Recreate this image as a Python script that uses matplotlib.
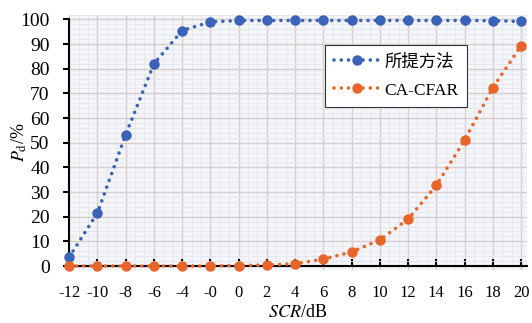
import numpy as np
import matplotlib.pyplot as plt
from matplotlib.ticker import MultipleLocator

plt.rcParams['font.family'] = ['Liberation Serif', 'Noto Sans CJK SC']
plt.rcParams['mathtext.fontset'] = 'stix'

scr_labels = ['-12', '-10', '-8', '-6', '-4', '-0', '0', '2', '4', '6',
              '8', '10', '12', '14', '16', '18', '20']
pd_proposed = [3.6, 21.5, 53.2, 82.0, 95.5, 99.0, 99.6, 99.6, 99.6, 99.6,
               99.6, 99.6, 99.6, 99.6, 99.6, 99.5, 99.2]
pd_cacfar = [0, 0, 0, 0, 0, 0, 0.2, 0.4, 0.9, 2.8,
             5.7, 10.6, 19.0, 32.7, 51.0, 72.3, 89.3]

x = np.arange(len(scr_labels))

fig, ax = plt.subplots(figsize=(5.32, 3.23), dpi=100)
fig.subplots_adjust(left=0.13, right=0.99, top=0.955, bottom=0.165)
ax.set_facecolor('#f3f5f9')

dot = (0, (0.01, 2.0))
ax.plot(x, pd_proposed, color='#3a62b8', linestyle=dot,
        dash_capstyle='round', linewidth=2.6, marker='o', markersize=6.5,
        label='所提方法', clip_on=False, zorder=3)
ax.plot(x, pd_cacfar, color='#e8652a', linestyle=dot,
        dash_capstyle='round', linewidth=2.6, marker='o', markersize=6.5,
        label='CA-CFAR', clip_on=False, zorder=3)

ax.set_xlim(0, 16.2)
ax.set_ylim(-1.5, 102)
ax.set_xticks(x)
ax.set_xticklabels(scr_labels)
ax.set_yticks(np.arange(0, 101, 10))
ax.xaxis.set_minor_locator(MultipleLocator(1 / 3))
ax.yaxis.set_minor_locator(MultipleLocator(2))

ax.grid(which='major', color='#d9cccc', linewidth=1.0)
ax.grid(which='minor', color='#e4e6ec', linewidth=0.6)
ax.set_axisbelow(True)

for s in ['top', 'right']:
    ax.spines[s].set_visible(False)
ax.spines['bottom'].set_position(('data', 0))
ax.spines['bottom'].set_linewidth(1.5)
ax.spines['left'].set_linewidth(1.5)
ax.spines['left'].set_bounds(0, 100)

ax.tick_params(axis='x', which='major', direction='in', length=5, width=1.5,
               labelsize=12, pad=14)
ax.tick_params(axis='y', which='major', direction='out', length=4, width=1.5,
               labelsize=14, pad=10)
ax.tick_params(which='minor', length=0)

ax.set_xlabel(r'$\mathit{SCR}$/dB', fontsize=13, labelpad=2)
ax.set_ylabel(r'$P_{\mathrm{d}}$/%', fontsize=13, labelpad=-6)

leg = ax.legend(loc='upper left', bbox_to_anchor=(0.56, 0.88), fontsize=12.5,
                frameon=True, fancybox=False, edgecolor='#333333',
                framealpha=1, handlelength=2.6, borderpad=0.5,
                borderaxespad=0, labelspacing=0.7, handletextpad=0.3)
leg.get_frame().set_linewidth(0.8)

fig.savefig('out.png', dpi=100)
